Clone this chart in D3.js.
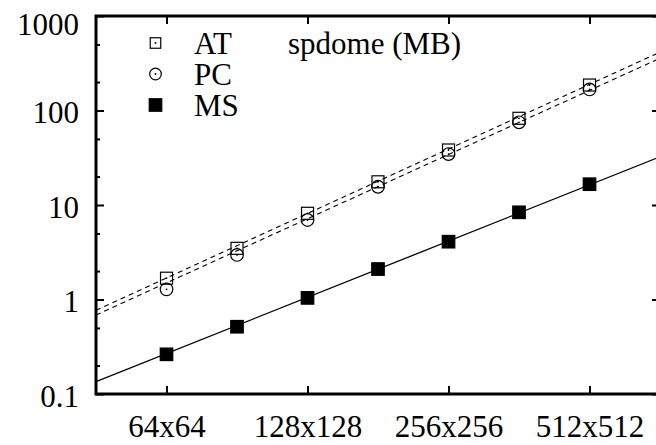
<!DOCTYPE html>
<html>
<head>
<meta charset="utf-8">
<script src="https://cdn.jsdelivr.net/npm/d3@7"></script>
<style>
  body { margin: 0; background: #fff; }
  svg { display: block; }
</style>
</head>
<body>
<script>
//------------------------1. DATA------------------------//
// image side (pixels) for each run, x axis is log2
const sides = [64, 90.5, 128, 181, 256, 362, 512];
const xTicks = [64, 128, 256, 512];
const yTicks = [0.1, 1, 10, 100, 1000];
const yMinor = [0.2, 0.5, 2, 5, 20, 50, 200, 500];

// memory in MB
const atVals = [1.68, 3.48, 8.17, 17.6, 38.2, 82.7, 186];
const pcVals = [1.28, 2.96, 6.94, 15.6, 34.6, 75, 167];
const msVals = [0.263, 0.515, 1.04, 2.1, 4.09, 8.37, 16.6];

// fitted lines, read at the left and right edge of the plot
const fitSides = [45.25, 724];
const atFit = [0.77, 414];
const pcFit = [0.686, 357];
const msFit = [0.135, 32.4];

const seriesNames = ['AT', 'PC', 'MS'];
const title = 'spdome (MB)';

//------------------------2. SVG------------------------//
const width = 656;
const height = 445;
const plotL = 96, plotT = 16, plotR = 660, plotB = 394;
const serif = '"Liberation Serif", "DejaVu Serif", "Times New Roman", Times, serif';
const fontSize = '31px';

const svg = d3.select('body')
  .append('svg')
  .attr('width', width)
  .attr('height', height);

const x = d3.scaleLog().base(2)
  .domain([fitSides[0], fitSides[1]])
  .range([plotL, plotR]);
const y = d3.scaleLog()
  .domain([0.1, 1000])
  .range([plotB, plotT]);

//------------------------3. AXES------------------------//
function styleAxis(g) {
  g.attr('font-family', null).attr('font-size', null);
  g.select('.domain').remove();
  g.selectAll('.tick line').attr('stroke', '#000').attr('stroke-width', 2);
  g.selectAll('.tick text')
    .style('font-family', serif)
    .style('font-size', fontSize)
    .attr('fill', '#000');
}

// left
svg.append('g')
  .attr('transform', 'translate(' + plotL + ',0)')
  .call(d3.axisLeft(y).tickValues(yTicks).tickSize(-8).tickPadding(17)
    .tickFormat(d => d >= 1 ? d3.format('d')(d) : d))
  .call(styleAxis)
  .selectAll('.tick text')
  .attr('dy', d => d === 1000 ? '0.61em' : '0.39em');

svg.append('g')
  .attr('transform', 'translate(' + plotL + ',0)')
  .call(d3.axisLeft(y).tickValues(yMinor).tickSize(-4).tickFormat(''))
  .call(styleAxis);

// right
svg.append('g')
  .attr('transform', 'translate(' + plotR + ',0)')
  .call(d3.axisRight(y).tickValues(yTicks).tickSize(-8).tickFormat(''))
  .call(styleAxis);
svg.append('g')
  .attr('transform', 'translate(' + plotR + ',0)')
  .call(d3.axisRight(y).tickValues(yMinor).tickSize(-4).tickFormat(''))
  .call(styleAxis);

// bottom
svg.append('g')
  .attr('transform', 'translate(0,' + plotB + ')')
  .call(d3.axisBottom(x).tickValues(xTicks).tickSize(-8).tickPadding(21)
    .tickFormat(d => d + 'x' + d))
  .call(styleAxis);

// top
svg.append('g')
  .attr('transform', 'translate(0,' + plotT + ')')
  .call(d3.axisTop(x).tickValues(xTicks).tickSize(-8).tickFormat(''))
  .call(styleAxis);

// frame
svg.append('rect')
  .attr('x', plotL)
  .attr('y', plotT)
  .attr('width', plotR - plotL)
  .attr('height', plotB - plotT)
  .attr('fill', 'none')
  .attr('stroke', '#000')
  .attr('stroke-width', 3);

//------------------------4. LINES------------------------//
const line = d3.line()
  .x((d, i) => x(fitSides[i]))
  .y(d => y(d));

const plot = svg.append('g');

plot.append('path').datum(atFit)
  .attr('d', line)
  .attr('fill', 'none').attr('stroke', '#000').attr('stroke-width', 1.1)
  .attr('stroke-dasharray', '5,4');
plot.append('path').datum(pcFit)
  .attr('d', line)
  .attr('fill', 'none').attr('stroke', '#000').attr('stroke-width', 1.1)
  .attr('stroke-dasharray', '5,4');
plot.append('path').datum(msFit)
  .attr('d', line)
  .attr('fill', 'none').attr('stroke', '#000').attr('stroke-width', 1.3);

//------------------------5. POINTS------------------------//
function drawSquare(g, cx, cy, s, filled) {
  g.append('rect')
    .attr('x', cx - s / 2).attr('y', cy - s / 2)
    .attr('width', s).attr('height', s)
    .attr('fill', filled ? '#000' : 'none')
    .attr('stroke', '#000').attr('stroke-width', 1.2);
  if (!filled) {
    g.append('circle').attr('cx', cx).attr('cy', cy).attr('r', 0.9).attr('fill', '#000');
  }
}
function drawCircle(g, cx, cy, r) {
  g.append('circle')
    .attr('cx', cx).attr('cy', cy).attr('r', r)
    .attr('fill', 'none').attr('stroke', '#000').attr('stroke-width', 1.2);
  g.append('circle').attr('cx', cx).attr('cy', cy).attr('r', 0.9).attr('fill', '#000');
}

for (let i = 0; i < sides.length; i++) {
  drawSquare(plot, x(sides[i]), y(atVals[i]), 12, false);
  drawCircle(plot, x(sides[i]), y(pcVals[i]), 6.3);
  drawSquare(plot, x(sides[i]), y(msVals[i]), 12.5, true);
}

//------------------------6. LEGEND------------------------//
const legend = svg.append('g');
const legY = [43, 74, 105];
drawSquare(legend, 155.5, legY[0], 10.5, false);
drawCircle(legend, 155.5, legY[1], 5.8);
drawSquare(legend, 155.5, legY[2], 12.5, true);

seriesNames.forEach(function (name, i) {
  legend.append('text')
    .attr('x', 194)
    .attr('y', legY[i] + 10.5)
    .style('font-family', serif)
    .style('font-size', fontSize)
    .text(name);
});

legend.append('text')
  .attr('x', 288)
  .attr('y', legY[0] + 10.5)
  .style('font-family', serif)
  .style('font-size', fontSize)
  .text(title);
</script>
</body>
</html>
